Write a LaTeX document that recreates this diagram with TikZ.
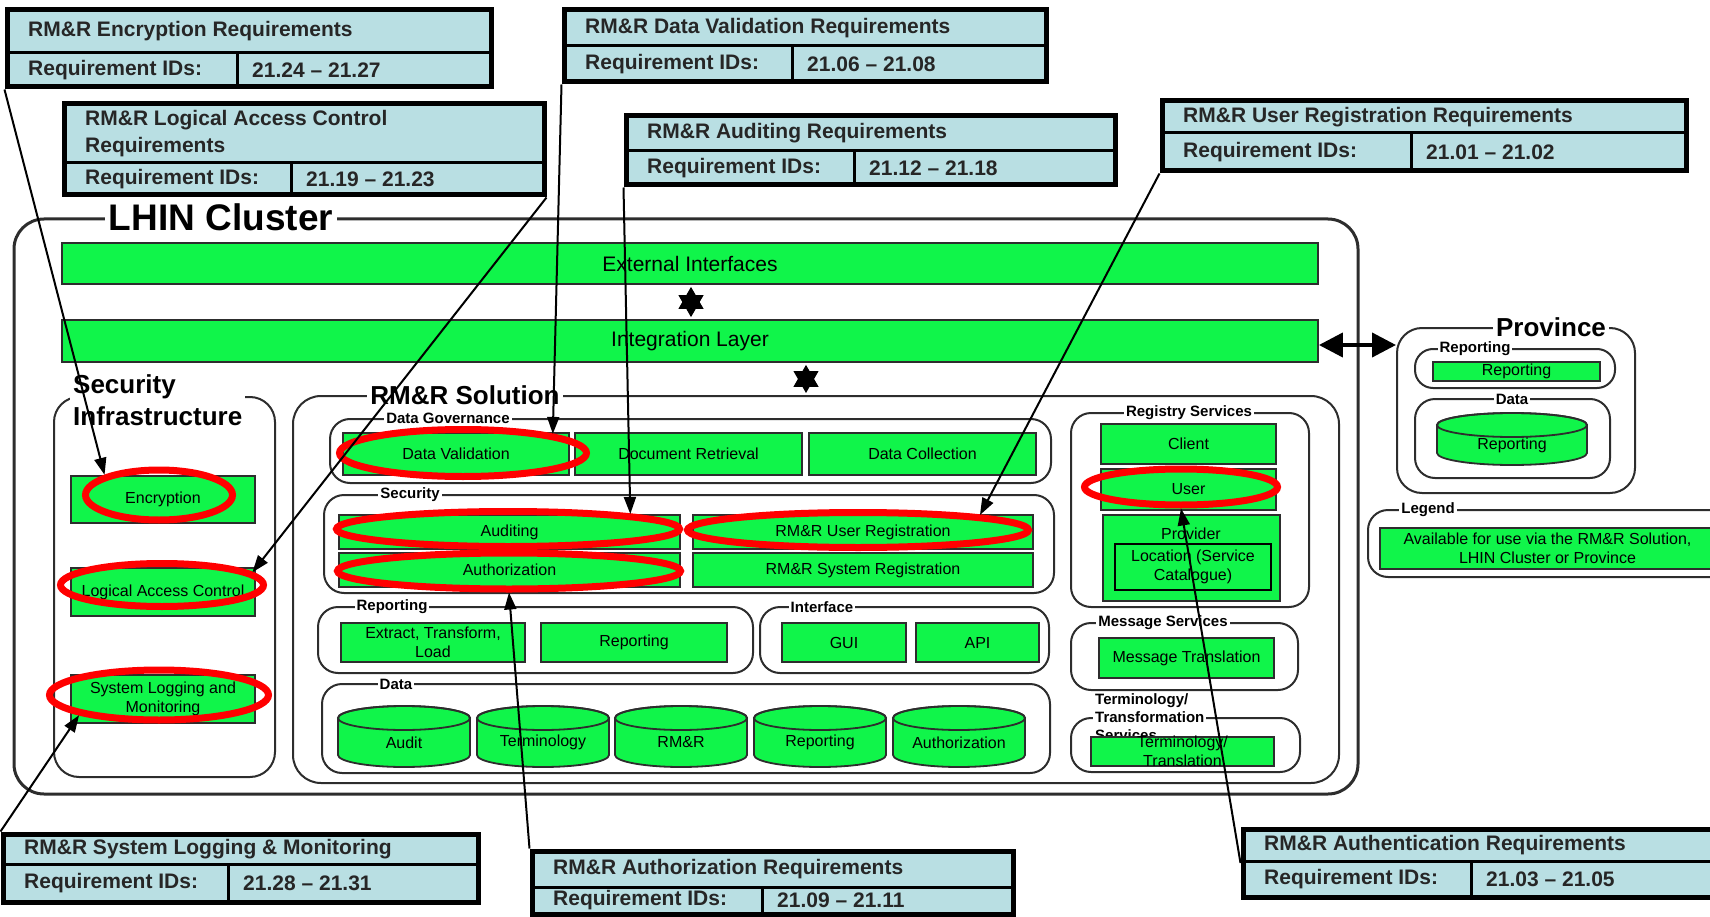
\documentclass[tikz,border=0pt]{standalone}
\usepackage{fontspec}
\setmainfont{Liberation Sans}
\usetikzlibrary{arrows.meta, positioning, fit, shapes.geometric}

\definecolor{reqblue}{RGB}{185,223,227}
\definecolor{boxgreen}{RGB}{16,245,74}
\definecolor{ringred}{RGB}{255,0,0}
\definecolor{edgegray}{RGB}{45,45,45}

% requirement call-out: name, x1, y1, x2, y2, row line, column line, title, ids
\newcommand\reqbox[9]{%
  \node[reqframe, fit={(#2,#3) (#4,#5)}] (#1) {};
  \draw[reqrule] (#2,#6) -- (#4,#6) (#7,#6) -- (#7,#5);
  \node[reqtext] (#1-title) at ({#2+21},{(#3+#6)/2}) {#8};
  \node[reqtext] (#1-label) at ({#2+21},{(#6+#5)/2}) {Requirement IDs:};
  \node[reqtext] (#1-ids) at ({#7+15},{(#6+#5)/2}) {#9};
}
% database drum: name, centre x, top y, bottom y, half width, text
\newcommand\dbstore[6]{%
  \filldraw[dbshape] ({#2-#5},{#3+12}) -- ({#2-#5},{#4-12})
    arc[start angle=180, end angle=360, x radius=#5pt, y radius=12pt]
    -- ({#2+#5},{#3+12})
    arc[start angle=0, end angle=180, x radius=#5pt, y radius=12pt] -- cycle;
  \draw[dbshape, fill=none] (#2,{#3+12}) ellipse[x radius=#5pt, y radius=12pt];
  \node[intext] (#1) at (#2,{(#3+#4)/2+6}) {#6};
}

\begin{document}
\begin{tikzpicture}[x=1pt, y=-1pt,
    reqframe/.style={draw=black, line width=5pt, fill=reqblue, inner sep=0pt},
    reqrule/.style={line width=3pt},
    reqtext/.style={anchor=west, inner sep=0pt, text=black!85, align=left,
        font=\fontsize{21}{23}\selectfont\bfseries},
    grp/.style={draw=edgegray, line width=2pt, rounded corners=20pt, inner sep=0pt},
    grplabel/.style={fill=white, inner xsep=2pt, inner ysep=0pt,
        font=\fontsize{15}{18}\selectfont\bfseries},
    bigtitle/.style={fill=white, inner xsep=3pt, inner ysep=0pt, align=left,
        font=\fontsize{26}{32}\selectfont\bfseries},
    gbox/.style={draw=edgegray, line width=1.8pt, fill=boxgreen, inner sep=0pt},
    txt/.style={label={[intext]center:#1}},
    bartxt/.style={label={[intext, font=\fontsize{21}{24}\selectfont]center:#1}},
    intext/.style={inner sep=0pt, align=center, font=\fontsize{16}{19}\selectfont},
    dbshape/.style={draw=edgegray, line width=1.8pt, fill=boxgreen},
    ring/.style={ellipse, draw=ringred, line width=7pt, inner sep=0pt},
    callout/.style={line width=2pt, -{Triangle[length=17pt,width=12pt]}},
    hexstar/.style={line width=1pt, shorten <=2pt, shorten >=2pt,
        {Triangle[length=22pt,width=25pt]}-{Triangle[length=22pt,width=25pt]}},
    link/.style={line width=4pt,
        {Triangle[length=24pt,width=24pt]}-{Triangle[length=24pt,width=24pt]}}
  ]
  \useasboundingbox (0,0) rectangle (1710,917);
  \clip (0,0) rectangle (1710,917);

  % LHIN cluster
  \node[grp, rounded corners=30pt, line width=3pt, fit={(14,219) (1358,794)}] (lhin) {};
  \node[fill=white, inner xsep=4pt, inner ysep=0pt,
        font=\fontsize{37}{40}\selectfont\bfseries] (lhintitle) at (221,217) {LHIN Cluster};
  \node[gbox, bartxt=External Interfaces, fit={(62,243) (1318,284)}] (ext) {};
  \node[gbox, bartxt=Integration Layer, fit={(62,320) (1318,362)}] (integ) {};

  % security infrastructure
  \node[grp, rounded corners=25pt, fit={(54,397) (275,777)}] (secinfra) {};
  \node[bigtitle, anchor=west] (secinfratitle) at (70,400) {Security\\Infrastructure};
  \node[gbox, txt=Encryption, fit={(71,476) (255,523)}] (encryption) {};
  \node[gbox, txt=Logical Access Control, fit={(71,568) (255,616)}] (logaccess) {};
  \node[gbox, txt={System Logging and\\Monitoring}, fit={(71,675) (255,723)}] (syslogging) {};

  % RM&R solution
  \node[grp, rounded corners=28pt, fit={(293,396) (1339,783)}] (rmr) {};
  \node[bigtitle] (rmrtitle) at (465,395) {RM\&R Solution};

  \node[grp, fit={(330,419) (1051,483)}] (datagov) {};
  \node[grplabel] (datagovlabel) at (448,418) {Data Governance};
  \node[gbox, txt=Data Validation, fit={(343,433) (569,475)}] (datavalid) {};
  \node[gbox, txt=Document Retrieval, fit={(575,433) (802,475)}] (docretrieve) {};
  \node[gbox, txt=Data Collection, fit={(809,433) (1036,475)}] (datacollect) {};

  \node[grp, fit={(324,495) (1054,593)}] (security) {};
  \node[grplabel] (securitylabel) at (410,495) {Security};
  \node[gbox, txt=Auditing, fit={(339,515) (680,549)}] (auditing) {};
  \node[gbox, txt=Authorization, fit={(339,553) (680,587)}] (authorization) {};
  \node[gbox, txt=RM\&R User Registration, fit={(693,515) (1033,549)}] (userreg) {};
  \node[gbox, txt=RM\&R System Registration, fit={(693,553) (1033,587)}] (sysreg) {};

  \node[grp, fit={(318,607) (753,673)}] (reporting) {};
  \node[grplabel] (reportinglabel) at (392,607) {Reporting};
  \node[gbox, txt={Extract, Transform,\\Load}, fit={(341,623) (525,662)}] (etl) {};
  \node[gbox, txt=Reporting, fit={(541,623) (727,662)}] (reports) {};

  \node[grp, fit={(760,607) (1049,673)}] (interface) {};
  \node[grplabel] (interfacelabel) at (822,607) {Interface};
  \node[gbox, txt=GUI, fit={(782,623) (906,662)}] (gui) {};
  \node[gbox, txt=API, fit={(916,623) (1039,662)}] (api) {};

  \node[grp, fit={(322,684) (1050,773)}] (data) {};
  \node[grplabel] (datalabel) at (396,684) {Data};
  \dbstore{auditdb}{404}{706}{767}{66}{Audit}
  \dbstore{termdb}{543}{706}{767}{66}{Terminology}
  \dbstore{rmrdb}{681}{706}{767}{66}{RM\&R}
  \dbstore{reportdb}{820}{706}{767}{66}{Reporting}
  \dbstore{authzdb}{959}{706}{767}{66}{Authorization}

  \node[grp, fit={(1071,413) (1309,607)}] (registry) {};
  \node[grplabel] (registrylabel) at (1189,413) {Registry Services};
  \node[gbox, txt=Client, fit={(1101,424) (1276,464)}] (client) {};
  \node[gbox, txt=User, fit={(1101,469) (1276,510)}] (user) {};
  \node[gbox, fit={(1103,515) (1280,601)}] (provider) {};
  \node[intext] (providertext) at (1191,534) {Provider};
  \node[gbox, draw=black, txt={Location (Service\\Catalogue)}, fit={(1115,544) (1271,590)}] (location) {};

  \node[grp, fit={(1071,623) (1298,690)}] (messaging) {};
  \node[grplabel] (messaginglabel) at (1163,623) {Message Services};
  \node[gbox, txt=Message Translation, fit={(1099,638) (1274,678)}] (msgtrans) {};

  \node[grp, fit={(1071,718) (1300,772)}] (terminology) {};
  \node[grplabel, anchor=west, align=left] (terminologylabel) at (1093,717)
       {Terminology/\\Transformation\\Services};
  \node[gbox, txt={Terminology/\\Translation}, fit={(1091,737) (1274,766)}] (termtrans) {};

  % province
  \node[grp, rounded corners=25pt, fit={(1397,328) (1635,493)}] (province) {};
  \node[bigtitle] (provincetitle) at (1551,327) {Province};
  \node[grp, rounded corners=18pt, fit={(1415,349) (1615,388)}] (provreporting) {};
  \node[grplabel] (provreportinglabel) at (1475,349) {Reporting};
  \node[gbox, txt=Reporting, fit={(1433,362) (1600,381)}] (provreports) {};
  \node[grp, fit={(1415,399) (1610,478)}] (provdata) {};
  \node[grplabel] (provdatalabel) at (1512,399) {Data};
  \dbstore{provreportdb}{1512}{413}{465}{75}{Reporting}

  % legend
  \node[grp, fit={(1368,510) (1740,577)}] (legend) {};
  \node[grplabel] (legendlabel) at (1428,510) {Legend};
  \node[gbox, txt={Available for use via the RM\&R Solution,\\LHIN Cluster or Province},
        fit={(1380,528) (1715,569)}] (legendbox) {};

  % requirement call-outs
  \reqbox{encreq}{7}{10}{491}{87}{53}{237}{RM\&R Encryption Requirements}{21.24 -- 21.27}
  \reqbox{lacreq}{64}{104}{544}{195}{163}{291}{RM\&R Logical Access Control\\[4pt]Requirements}{21.19 -- 21.23}
  \reqbox{dvreq}{564}{10}{1046}{82}{46}{792}{RM\&R Data Validation Requirements}{21.06 -- 21.08}
  \reqbox{audreq}{626}{116}{1115}{185}{151}{854}{RM\&R Auditing Requirements}{21.12 -- 21.18}
  \reqbox{urreq}{1162}{101}{1686}{171}{133}{1411}{RM\&R User Registration Requirements}{21.01 -- 21.02}
  \reqbox{slreq}{3}{834}{478}{902}{864}{228}{RM\&R System Logging \& Monitoring}{21.28 -- 21.31}
  \reqbox{azreq}{532}{851}{1013}{914}{887}{762}{RM\&R Authorization Requirements}{21.09 -- 21.11}
  \reqbox{anreq}{1243}{829}{1725}{897}{861}{1471}{RM\&R Authentication Requirements}{21.03 -- 21.05}

  % red rings
  \node[ring, minimum width=147pt, minimum height=50pt] (encring) at (159,495) {};
  \node[ring, minimum width=203pt, minimum height=43pt] (lacring) at (162,585) {};
  \node[ring, minimum width=219pt, minimum height=50pt] (slring) at (159,695) {};
  \node[ring, minimum width=247pt, minimum height=47pt] (dvring) at (463,453) {};
  \node[ring, minimum width=343pt, minimum height=35pt] (audring) at (508,529) {};
  \node[ring, minimum width=343pt, minimum height=36pt] (azring) at (509,571) {};
  \node[ring, minimum width=341pt, minimum height=35pt] (urring) at (858,530) {};
  \node[ring, minimum width=193pt, minimum height=36pt] (userring) at (1181,487) {};

  % call-out arrows
  \draw[callout] (encreq.south west) -- (encring.north west);
  \draw[callout] (lacreq.south east) -- (lacring.8);
  \draw[callout] (slreq.north west) -- (slring.south west);
  \draw[callout] (dvreq.south west) -- (dvring.12);
  \draw[callout] (audreq.south west) -- (audring.7);
  \draw[callout] (urreq.south west) -- (urring.7);
  \draw[callout] (azreq.north west) -- (azring.south);
  \draw[callout] (anreq.west) -- (userring.south);

  % layer links
  \coordinate (starA) at (691,0);
  \coordinate (starB) at (806,0);
  \coordinate (linkY) at (0,345);
  \draw[hexstar] (ext.south -| starA) -- (integ.north -| starA);
  \draw[hexstar] (integ.south -| starB) -- (rmr.north -| starB);
  \draw[link] (integ.east |- linkY) -- (province.west |- linkY);
\end{tikzpicture}
\end{document}
